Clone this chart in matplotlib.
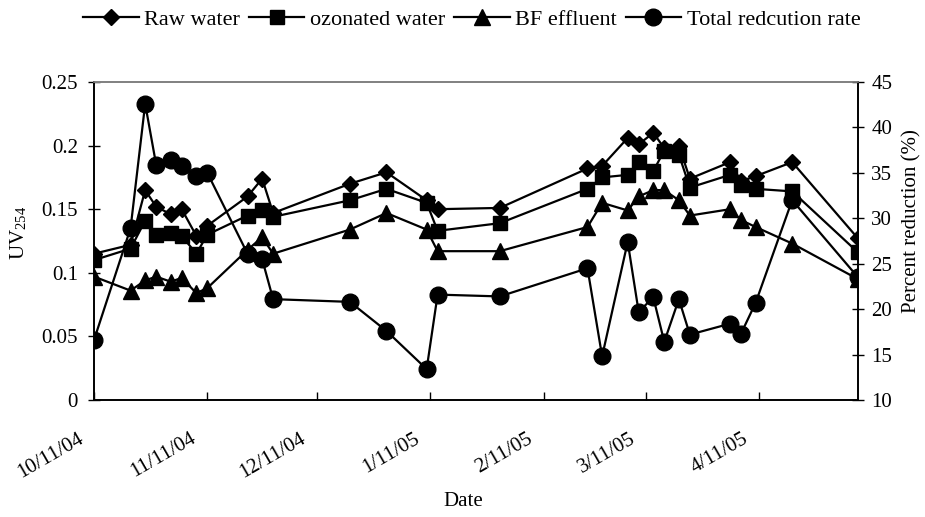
import datetime as dt
import matplotlib
matplotlib.use("Agg")
import matplotlib.pyplot as plt
import matplotlib.dates as mdates
from matplotlib.ticker import FuncFormatter
from matplotlib.transforms import ScaledTranslation

# sampling dates (m/d/y)
dates = ["10/11/04", "10/21/04", "10/25/04", "10/28/04", "11/1/04", "11/4/04",
         "11/8/04", "11/11/04", "11/22/04", "11/26/04", "11/29/04", "12/20/04",
         "12/30/04", "1/10/05", "1/13/05", "1/30/05", "2/23/05", "2/27/05",
         "3/6/05", "3/9/05", "3/13/05", "3/16/05", "3/20/05", "3/23/05",
         "4/3/05", "4/6/05", "4/10/05", "4/20/05", "5/8/05"]

raw_water = [0.115, 0.122, 0.165, 0.152, 0.146, 0.150, 0.129, 0.137, 0.160, 0.174,
             0.147, 0.170, 0.179, 0.157, 0.150, 0.151, 0.182, 0.184, 0.206, 0.201,
             0.210, 0.198, 0.200, 0.174, 0.187, 0.172, 0.176, 0.187, 0.127]
ozonated = [0.110, 0.119, 0.141, 0.130, 0.131, 0.129, 0.115, 0.130, 0.145, 0.149,
            0.144, 0.157, 0.166, 0.155, 0.133, 0.139, 0.166, 0.175, 0.177, 0.187,
            0.180, 0.196, 0.193, 0.167, 0.177, 0.169, 0.166, 0.164, 0.116]
bf_effluent = [0.097, 0.086, 0.094, 0.097, 0.093, 0.096, 0.084, 0.088, 0.118, 0.128,
               0.115, 0.134, 0.147, 0.134, 0.117, 0.117, 0.136, 0.155, 0.149, 0.160,
               0.165, 0.165, 0.157, 0.145, 0.150, 0.1415, 0.136, 0.123, 0.095]
reduction = [16.6, 28.9, 42.6, 35.9, 36.4, 35.7, 34.6, 35.0, 26.1, 25.5,
             21.1, 20.8, 17.6, 13.4, 21.6, 21.4, 24.5, 14.8, 27.4, 19.7,
             21.3, 16.4, 21.1, 17.2, 18.4, 17.3, 20.7, 32.0, 23.5]

x = [dt.datetime.strptime(d, "%m/%d/%y") for d in dates]
month_ticks = [dt.datetime(2004, 10, 11), dt.datetime(2004, 11, 11), dt.datetime(2004, 12, 11),
               dt.datetime(2005, 1, 11), dt.datetime(2005, 2, 11), dt.datetime(2005, 3, 11),
               dt.datetime(2005, 4, 11)]

plt.rcParams['font.family'] = ['Liberation Serif', 'DejaVu Serif']
plt.rcParams['mathtext.fontset'] = 'stix'
fs = 15

fig, ax = plt.subplots(figsize=(9.25, 5.17), dpi=100)
fig.subplots_adjust(left=94/925, right=858/925, top=1-82/517, bottom=1-400/517)
ax2 = ax.twinx()

style = dict(color='black', lw=1.6)
l1, = ax.plot(x, raw_water, marker='D', ms=8.5, label='Raw water', **style)
l2, = ax.plot(x, ozonated, marker='s', ms=10.5, label='ozonated water', **style)
l3, = ax.plot(x, bf_effluent, marker='^', ms=11.5, label='BF effluent', **style)
l4, = ax2.plot(x, reduction, marker='o', ms=12, label='Total redcution rate', **style)

ax.set_xlim(x[0], x[-1])
ax.set_ylim(0, 0.25)
ax.set_yticks([0, 0.05, 0.1, 0.15, 0.2, 0.25])
ax.yaxis.set_major_formatter(FuncFormatter(lambda v, p: f"{v:g}"))
ax2.set_ylim(10, 45)
ax2.set_yticks(range(10, 50, 5))

ax.set_xticks(month_ticks)
ax.xaxis.set_major_formatter(FuncFormatter(
    lambda v, p: (lambda d: f"{d.month}/{d.day}/{d.year % 100:02d}")(mdates.num2date(v))))

ax.tick_params(axis='x', direction='in', length=6, width=1, labelsize=fs, pad=21)
ax.tick_params(axis='y', direction='inout', length=9, width=1, labelsize=fs, pad=7)
ax2.tick_params(axis='y', direction='inout', length=9, width=1, labelsize=fs, pad=5)

shift = ScaledTranslation(-17/100, 0, fig.dpi_scale_trans)
for lab in ax.get_xticklabels():
    lab.set_rotation(30)
    lab.set_ha('right')
    lab.set_rotation_mode('anchor')
    lab.set_transform(lab.get_transform() + shift)

for a in (ax, ax2):
    for s in ('left', 'right', 'bottom'):
        a.spines[s].set_linewidth(1.2)
        a.spines[s].set_color('black')
    a.spines['top'].set_color('#808080')
    a.spines['top'].set_linewidth(1.2)

ax.set_ylabel(r"UV$_{\mathregular{254}}$", fontsize=fs)
ax.yaxis.set_label_coords(-0.085, 0.525)
ax2.set_ylabel("Percent reduction (%)", fontsize=fs)
ax2.yaxis.set_label_coords(1.058, 0.563)
ax.set_xlabel("Date", fontsize=fs)
ax.xaxis.set_label_coords(0.483, -0.29)

fig.legend(handles=[l1, l2, l3, l4], loc='center', bbox_to_anchor=(0.51, 0.962),
           ncol=4, frameon=False, fontsize=16, handlelength=2.5,
           handletextpad=0.25, columnspacing=0.4)

fig.savefig("out.png", dpi=100)
